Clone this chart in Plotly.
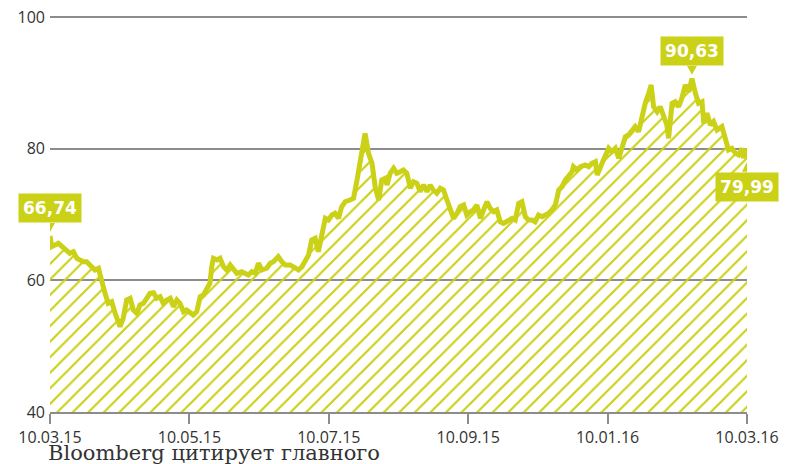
import plotly.graph_objects as go

# ---- data (trading-day index, price) ----
days = [0, 0.5, 2.4, 3.4, 4.8, 5.7, 6.7, 7.7, 8.6, 9.6, 10.5, 11.5, 12.4, 12.9, 13.9, 14.8, 15.8, 16.7, 17.7, 18.7,
        19.6, 20.1, 21.0, 22.0, 23.0, 23.9, 24.9, 25.8, 26.8, 27.8, 28.7, 29.7, 30.6, 31.6, 32.5, 33.5, 34.5, 35.4, 36.4, 37.3,
        38.3, 39.2, 40.2, 41.1, 42.1, 43.1, 44.0, 45.0, 45.9, 46.4, 46.9, 47.9, 48.8, 49.8,
        50.7, 51.7, 52.6, 53.6, 55.0, 56.0, 56.9, 57.9, 58.9, 59.8, 60.8, 62.2, 63.2, 64.1, 65.5, 66.5, 67.5, 68.9, 69.9,
        71.3, 72.3, 73.2, 74.2, 75.1, 76.1, 77.0, 78.0, 79.0, 79.9, 80.9, 81.8, 82.8, 83.7, 84.7, 86.1, 87.1, 88.1, 89.5,
        90.4, 91.4, 92.4, 93.3, 94.3, 95.2, 96.2, 96.7, 97.6, 98.6, 99.5, 100.5,
        101.4, 102.4, 103.4, 104.3, 105.3, 106.2, 107.2, 108.2, 109.1, 110.0, 111.0, 112.0, 112.9, 113.9, 114.8, 115.8,
        116.8, 117.7, 118.7, 119.6, 120.6, 121.5, 122.5, 123.5, 124.4, 125.4, 126.3, 127.3, 128.2, 129.2, 130.1, 131.6,
        132.6, 133.5, 134.5, 135.4, 136.4, 137.3, 138.3, 139.2, 140.2, 141.2, 142.1, 143.1, 144.0, 145.0, 146.0, 146.9,
        147.9, 148.8, 149.8,
        150.2, 151.2, 152.2, 153.6, 154.6, 155.5, 156.5, 157.0, 158.4, 159.3, 160.3, 161.2, 162.2, 163.2, 164.1, 165.1,
        166.0, 167.0, 167.9, 168.9, 169.9, 170.8, 171.8, 172.5, 173.2, 174.2, 175.1, 176.1, 177.0, 177.5, 178.5, 179.4,
        180.4, 181.3, 182.3, 183.3, 184.2, 185.2, 186.1, 187.1, 187.6, 188.5, 189.5, 190.4, 191.4, 192.8, 193.8, 194.7,
        195.7, 196.7, 197.6, 198.6, 199.0, 199.5, 200]
prices = [66.74, 65.11, 65.62, 65.11, 64.35, 64.1, 64.35, 63.34, 63.09, 62.83, 62.83, 62.33, 62.07, 61.57, 61.83, 59.79,
          58.03, 56.51, 56.75, 54.99, 53.21, 52.95, 54.23, 57.01, 57.27, 55.49, 54.99, 56.25, 56.51, 57.27, 58.03, 58.12,
          57.27, 57.51, 56.51, 57.01, 57.27, 55.99, 57.01, 56.51, 55.23, 55.49, 54.99, 54.73, 55.23, 57.51, 57.77, 58.79,
          59.55, 62.07, 63.34, 63.09, 63.34, 62.07,
          61.57, 62.33, 61.57, 61.07, 61.31, 61.07, 60.81, 61.31, 61.07, 62.59, 61.57, 61.83, 62.59, 62.83, 63.59, 62.83,
          62.33, 62.33, 62.07, 61.57, 62.07, 63.09, 63.85, 66.12, 66.38, 64.35, 67.14, 69.42, 69.16, 69.92, 70.18, 69.42,
          71.18, 71.94, 72.2, 72.46, 75.24, 79.29, 82.33, 79.29, 77.78, 74.22, 72.2, 75.24, 75.5, 74.48, 76.26, 77.02,
          76.26, 76.5,
          76.76, 76.26, 73.98, 74.98, 74.74, 73.46, 74.48, 73.46, 74.48, 73.72, 73.22, 73.98, 73.72, 72.2, 70.68, 69.42,
          70.18, 71.18, 71.44, 69.92, 70.42, 70.68, 71.44, 69.42, 70.68, 71.94, 70.94, 70.42, 70.68, 68.9, 68.66, 69.16,
          69.42, 69.16, 71.69, 71.94, 69.67, 69.16, 69.16, 68.9, 69.92, 69.67, 69.92, 70.18, 70.68, 71.44, 73.72, 74.22,
          75.24, 76.0, 76.5,
          77.26, 76.76, 77.26, 77.52, 77.26, 77.78, 78.03, 76.0, 77.78, 78.78, 80.05, 79.54, 80.05, 78.54, 80.3, 81.82,
          82.07, 82.83, 83.34, 82.58, 85.11, 86.89, 88.41, 89.67, 86.37, 85.61, 86.37, 85.11, 83.59, 81.57, 86.89, 87.13,
          86.37, 87.65, 89.67, 88.65, 90.63, 88.41, 86.89, 87.13, 83.85, 85.37, 83.59, 84.1, 82.83, 83.34, 81.32, 79.8,
          80.05, 79.29, 79.04, 80.05, 78.54, 79.99, 78.6]

tick_vals = [0, 40, 80, 120, 160, 200]
tick_text = ["10.03.15", "10.05.15", "10.07.15", "10.09.15", "10.01.16", "10.03.16"]
y_ticks = [40, 60, 80, 100]
labels = ["66,74", "90,63", "79,99"]

C = "#cad116"
GRID = "#8c8c8c"
TXT = "#333333"

fig = go.Figure()
fig.add_trace(go.Scatter(
    x=days, y=prices, mode="lines",
    line=dict(color=C, width=5),
    fill="tozeroy", fillcolor="rgba(255,255,255,0)",
    fillpattern=dict(shape="/", fgcolor=C, bgcolor="rgba(255,255,255,0)", fgopacity=1,
                     size=11, solidity=0.2, fillmode="overlay"),
    hoverinfo="skip",
))

i_max = prices.index(max(prices))
points = [(0, "down"), (i_max, "down"), (len(prices) - 1, "up")]
for (idx, d), lab in zip(points, labels):
    xv, yv = days[idx], prices[idx]
    if d == "down":
        fig.add_annotation(x=xv, y=yv, text=f"<b>{lab}</b>", showarrow=False, yanchor="bottom", yshift=13,
                           bgcolor=C, width=60, height=26, font=dict(family="DejaVu Sans", size=17, color="white"))
        path = "M -5 13 L 5 13 L 0 4 Z"
    else:
        fig.add_annotation(x=xv, y=yv, text=f"<b>{lab}</b>", showarrow=False, yanchor="top", yshift=-14,
                           bgcolor=C, width=60, height=26, font=dict(family="DejaVu Sans", size=17, color="white"))
        path = "M -5 -14 L 5 -14 L 0 -4 Z"
    fig.add_shape(type="path", xref="x", yref="y", xsizemode="pixel", ysizemode="pixel",
                  xanchor=xv, yanchor=yv, path=path, fillcolor=C, line=dict(width=0))

fig.add_annotation(xref="paper", yref="paper", x=-0.006, y=-0.104, xanchor="left", yanchor="middle",
                   text="Bloomberg цитирует главного", showarrow=False,
                   font=dict(family="DejaVu Serif", size=21, color=TXT))

# page body has an 8px margin; margins below compensate so the plot lands where the reference has it
fig.update_layout(
    template="none",
    width=798, height=464,
    margin=dict(l=42, r=59, t=7, b=60, autoexpand=False),
    paper_bgcolor="white", plot_bgcolor="white",
    showlegend=False,
    font=dict(family="Open Sans", size=16, color=TXT),
)
fig.update_xaxes(range=[0, 200], tickvals=tick_vals, ticktext=tick_text, showgrid=False, zeroline=False,
                 automargin=False,
                 showline=True, linecolor=GRID, linewidth=2, ticks="outside", ticklen=10, tickwidth=2,
                 tickcolor=GRID, tickfont=dict(family="Open Sans", size=16, color=TXT))
fig.update_yaxes(range=[40, 100.3], tickvals=y_ticks, showgrid=True, gridcolor=GRID, gridwidth=2, zeroline=False,
                 automargin=False, ticklabeloverflow="allow",
                 showline=False, ticks="", ticklabelstandoff=4, tickfont=dict(family="Open Sans", size=16, color=TXT))

fig.write_html("out.html")
